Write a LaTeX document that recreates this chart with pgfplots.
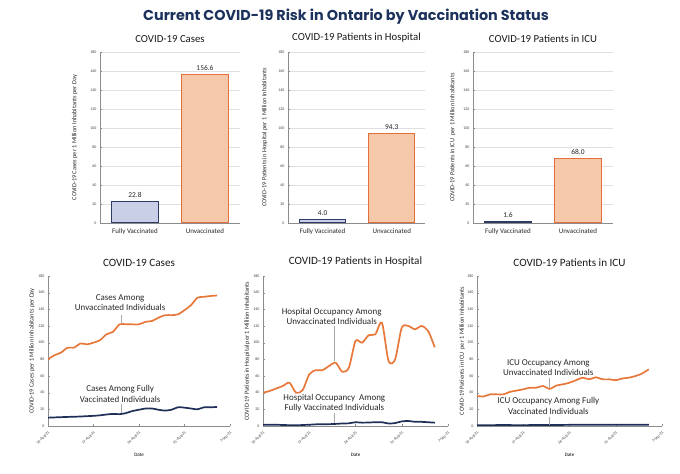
\documentclass[border=0pt]{standalone}
\usepackage{fontspec}
\setmainfont{Carlito}
\newfontfamily\titlefont{Poppins}
\usepackage{pgfplots}
\pgfplotsset{compat=1.18}
\definecolor{navy}{RGB}{28,50,92}
\definecolor{orl}{RGB}{232,120,58}
\definecolor{nvl}{RGB}{30,48,88}
\definecolor{bluefill}{RGB}{200,207,230}
\definecolor{blueedge}{RGB}{44,60,105}
\definecolor{orfill}{RGB}{246,200,170}
\definecolor{oredge}{RGB}{226,110,60}
\tikzset{
  tinytick/.style={font=\fontsize{4}{4.5}\selectfont, text=black!75},
  annot/.style={font=\fontsize{9}{10.5}\selectfont, align=center, text=black!85},
  ptr/.style={draw=black!35, line width=0.6bp},
}
\pgfplotsset{
  common/.style={scale only axis, anchor=south west,
    axis line style={black!45}, tick style={black!45}, major tick length=2bp,
    /pgf/number format/assume math mode=true,
    ymin=0, ymax=180, ytick={0,20,...,180},
    y tick label style={tinytick},
    ylabel style={font=\fontsize{6.3}{7}\selectfont, anchor=center, text=black!85},
    title style={font=\fontsize{10.8}{12}\selectfont, text=black!90}},
  barax/.style={common, width=140bp, height=171bp, xmin=-0.5, xmax=1.5,
    xtick={0,1}, xticklabels={Fully Vaccinated,Unvaccinated},
    x tick label style={font=\fontsize{7}{8}\selectfont, text=black!85},
    major x tick style={draw=none},
    axis x line*=bottom, axis y line*=left,
    ymajorgrids, grid style={black!12},
    ybar, bar width=0.67,
    nodes near coords={\pgfmathprintnumber[fixed,fixed zerofill,precision=1]{\pgfplotspointmeta}},
    every node near coord/.append style={font=\fontsize{7.5}{8}\selectfont, text=black!85}},
  lineax/.style={common, width=185bp, height=150bp, xmin=0, xmax=28,
    xtick={0,7,14,21,28},
    xticklabels={10-Aug-21,17-Aug-21,24-Aug-21,31-Aug-21,7-Sep-21},
    x tick label style={tinytick, rotate=45, anchor=north east},
    axis lines*=left, xlabel={Date},
    xlabel style={font=\fontsize{5}{6}\selectfont, at={(axis description cs:0.5,-0.19)}, anchor=center},
    title style={font=\fontsize{11.2}{12}\selectfont}},
  orline/.style={color=orl, line width=1.7bp, smooth, tension=0.45, mark=none},
  nvline/.style={color=nvl, line width=1.7bp, smooth, tension=0.45, mark=none},
}
\begin{document}
\begin{tikzpicture}
\useasboundingbox (0,0) rectangle (680bp,474bp);
\node[font=\titlefont\bfseries\fontsize{14.4}{18}\selectfont, text=navy] at (346bp,457bp) {Current COVID-19 Risk in Ontario by Vaccination Status};

% ---------- top row ----------
\begin{axis}[barax, at={(100bp,251bp)}, title={COVID-19 Cases},
  ylabel={COVID-19 Cases per 1 Million Inhabitants per Day},
  ylabel style={at={(axis description cs:-0.18,0.5)}}]
\addplot[fill=bluefill, draw=blueedge, line width=1bp, bar shift=0pt] coordinates {(0,22.8)};
\addplot[fill=orfill, draw=oredge, line width=1bp, bar shift=0pt] coordinates {(1,156.6)};
\end{axis}

\begin{axis}[barax, width=137bp, xmax=1.48, at={(288bp,251bp)}, title={COVID-19 Patients in Hospital},
  ylabel={COVID-19 Patients in Hospital per 1 Million Inhabitants},
  ylabel style={at={(axis description cs:-0.17,0.5)}}]
\addplot[fill=bluefill, draw=blueedge, line width=1bp, bar shift=0pt] coordinates {(0,4.0)};
\addplot[fill=orfill, draw=oredge, line width=1bp, bar shift=0pt] coordinates {(1,94.3)};
\end{axis}

\begin{axis}[barax, at={(473bp,251bp)}, title={COVID-19 Patients in ICU},
  ylabel={COVID-19 Patients in ICU\ \ per 1 Million Inhabitants},
  ylabel style={at={(axis description cs:-0.145,0.5)}}]
\addplot[fill=bluefill, draw=blueedge, line width=1bp, bar shift=0pt] coordinates {(0,1.6)};
\addplot[fill=orfill, draw=oredge, line width=1bp, bar shift=0pt] coordinates {(1,68.0)};
\end{axis}

% ---------- bottom row ----------
\begin{axis}[lineax, width=182bp, at={(48bp,48bp)}, title={COVID-19 Cases},
  ylabel={COVID-19 Cases per 1 Million Inhabitants per Day},
  ylabel style={at={(axis description cs:-0.088,0.5)}}]
\addplot[orline] coordinates {
(0,80) (1,85) (2,88) (3,94) (4,94) (5,99) (6,98) (7,100) (8,103) (9,110)
(10,113) (11,122) (12,122) (13,122) (14,122) (15,125) (16,126) (17,130) (18,133) (19,133)
(20,134) (21,139) (22,145) (23,154) (24,155) (25,156) (26,156.6)};
\addplot[nvline] coordinates {
(0,10) (1,10.3) (2,10.6) (3,10.9) (4,11.1) (5,11.4) (6,11.8) (7,12.2) (8,12.8) (9,13.8)
(10,14.5) (11,14.2) (12,15.5) (13,18) (14,19.5) (15,21) (16,21) (17,19.5) (18,18.5) (19,19.5)
(20,22.5) (21,22) (22,21) (23,20) (24,22.5) (25,22.5) (26,22.8)};
\node[annot] at (axis cs:11.1,148) {Cases Among\\Unvaccinated Individuals};
\draw[ptr] (axis cs:11.2,133) -- (axis cs:11.2,123);
\node[annot] at (axis cs:11.1,38.5) {Cases Among Fully\\Vaccinated Individuals};
\draw[ptr] (axis cs:11.2,26) -- (axis cs:11.2,16);
\end{axis}

\begin{axis}[lineax, at={(263bp,48bp)}, title={COVID-19 Patients in Hospital},
  ylabel={COVID-19 Patients in Hospital per 1 Million Inhabitants},
  ylabel style={at={(axis description cs:-0.086,0.5)}}]
\addplot[orline] coordinates {
(0,40) (1,42) (2,45) (3,48) (4,52) (5,40) (6,43) (7,62) (8,67) (9,67)
(10,72) (11,76) (12,65) (13,70) (14,102) (15,100) (16,109) (17,110) (18,124) (19,78)
(20,80) (21,118) (22,120) (23,116) (24,120) (25,114) (26,94.3)};
\addplot[nvline] coordinates {
(0,1.5) (1,1.5) (2,1.5) (3,1.2) (4,1.0) (5,0.8) (6,1.2) (7,1.5) (8,2.0) (9,2.0)
(10,2.2) (11,2.5) (12,3.0) (13,3.2) (14,4.5) (15,4.0) (16,4.2) (17,4.5) (18,4.5) (19,3.0)
(20,3.5) (21,5.5) (22,6.0) (23,5.0) (24,5.0) (25,4.5) (26,4.0)};
\node[annot] at (axis cs:10.4,131.5) {Hospital Occupancy Among\\Unvaccinated Individuals};
\draw[ptr] (axis cs:10.8,120) -- (axis cs:10.8,78);
\node[annot] at (axis cs:10.8,27.5) {Hospital Occupancy\ \ Among\\Fully Vaccinated Individuals};
\draw[ptr] (axis cs:10.8,15) -- (axis cs:10.8,3);
\end{axis}

\begin{axis}[lineax, at={(477bp,48bp)}, title={COVID-19 Patients in ICU},
  ylabel={COVID-19 Patients in ICU\ \ per 1 Million Inhabitants},
  ylabel style={at={(axis description cs:-0.08,0.5)}}]
\addplot[orline] coordinates {
(0,36) (1,35.5) (2,38) (3,38) (4,38) (5,41) (6,42.5) (7,44) (8,46) (9,46)
(10,48) (11,44.5) (12,48.5) (13,50) (14,52) (15,55) (16,58) (17,56) (18,58.5) (19,56)
(20,56) (21,55) (22,57) (23,58) (24,60) (25,63) (26,68)};
\addplot[nvline] coordinates {
(0,1.0) (1,1.0) (2,1.0) (3,1.1) (4,1.1) (5,1.1) (6,1.0) (7,1.0) (8,1.1) (9,1.2)
(10,1.2) (11,1.3) (12,1.3) (13,1.3) (14,1.4) (15,1.4) (16,1.4) (17,1.5) (18,1.5) (19,1.5)
(20,1.5) (21,1.6) (22,1.6) (23,1.6) (24,1.6) (25,1.6) (26,1.6)};
\node[annot] at (axis cs:10.8,70) {ICU Occupancy Among\\Unvaccinated Individuals};
\draw[ptr] (axis cs:10.9,58) -- (axis cs:10.9,45);
\node[annot] at (axis cs:10.8,24) {ICU Occupancy Among Fully\\Vaccinated Individuals};
\draw[ptr] (axis cs:10.9,11) -- (axis cs:10.9,1);
\end{axis}
\end{tikzpicture}
\end{document}
